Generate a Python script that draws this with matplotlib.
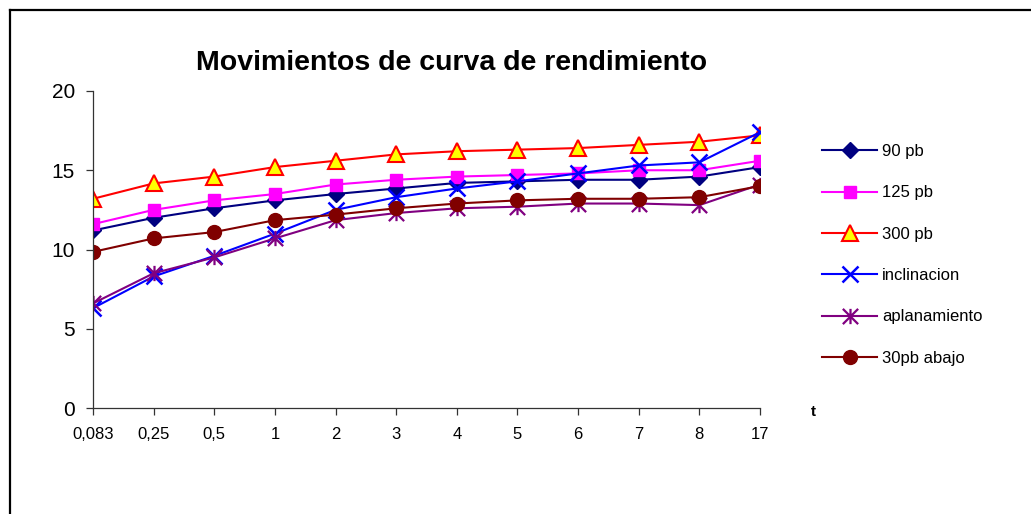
import matplotlib
matplotlib.use("Agg")
import matplotlib.pyplot as plt
from matplotlib.path import Path
from matplotlib.lines import Line2D

plt.rcParams['font.family'] = ['Liberation Sans', 'DejaVu Sans']

categories = ['0,083', '0,25', '0,5', '1', '2', '3', '4', '5', '6', '7', '8', '17']
s90 = [11.2, 12.0, 12.6, 13.1, 13.5, 13.85, 14.2, 14.3, 14.4, 14.4, 14.6, 15.2]
s125 = [11.6, 12.5, 13.1, 13.5, 14.1, 14.4, 14.6, 14.7, 14.8, 15.0, 15.0, 15.6]
s300 = [13.2, 14.17, 14.6, 15.2, 15.6, 16.0, 16.2, 16.3, 16.4, 16.6, 16.8, 17.2]
inclinacion = [6.3, 8.3, 9.6, 11.0, 12.5, 13.3, 13.85, 14.3, 14.8, 15.3, 15.5, 17.4]
aplanamiento = [6.6, 8.5, 9.5, 10.7, 11.85, 12.3, 12.6, 12.7, 12.9, 12.9, 12.8, 14.1]
abajo30 = [9.85, 10.7, 11.1, 11.85, 12.2, 12.6, 12.9, 13.1, 13.2, 13.2, 13.3, 14.0]
labels = ['90 pb', '125 pb', '300 pb', 'inclinacion', 'aplanamiento', '30pb abajo']
yticks = [0, 5, 10, 15, 20]

W, H = 1031, 514
fig = plt.figure(figsize=(W / 100, H / 100), dpi=100)
ax = fig.add_axes([93 / W, 1 - 408 / H, (760 - 93) / W, (408 - 91) / H])

x = list(range(len(categories)))
asterisk = Path([(0, -1), (0, 1), (-1, -1), (1, 1), (-1, 1), (1, -1)],
                [Path.MOVETO, Path.LINETO, Path.MOVETO, Path.LINETO, Path.MOVETO, Path.LINETO])

lw = 1.5
ax.plot(x, s90, color='#000080', lw=lw, marker='D', ms=8, mfc='#000080', mec='#000080', label=labels[0])
ax.plot(x, s125, color='#FF00FF', lw=lw, marker='s', ms=9, mfc='#FF00FF', mec='#FF00FF', label=labels[1])
ax.plot(x, s300, color='#FF0000', lw=lw, marker='^', ms=11, mfc='#FFFF00', mec='#FF0000', mew=1.5, label=labels[2])
ax.plot(x, inclinacion, color='#0000FF', lw=lw, marker='x', ms=11, mec='#0000FF', mew=1.8, label=labels[3])
ax.plot(x, aplanamiento, color='#800080', lw=lw, marker=asterisk, ms=11, mec='#800080', mfc='none', mew=1.6, label=labels[4])
ax.plot(x, abajo30, color='#800000', lw=lw, marker='o', ms=10, mfc='#800000', mec='#800000', label=labels[5])

ax.set_xlim(0, len(categories) - 1)
ax.set_ylim(0, 20)
ax.set_xticks(x)
ax.set_xticklabels(categories, fontsize=12)
ax.set_yticks(yticks)
ax.set_yticklabels([str(v) for v in yticks], fontsize=15)
for s in ['top', 'right']:
    ax.spines[s].set_visible(False)
for s in ['left', 'bottom']:
    ax.spines[s].set_color('#333333')
    ax.spines[s].set_linewidth(0.9)
ax.tick_params(axis='both', direction='out', length=5, width=0.9, color='#333333')
ax.tick_params(axis='x', pad=9)
ax.tick_params(axis='y', pad=8)

fig.text(451.5 / W, 1 - 63 / H, 'Movimientos de curva de rendimiento', fontsize=20.5,
         fontweight='bold', ha='center', va='center')
fig.text(813 / W, 1 - 412 / H, 't', fontsize=11, fontweight='bold', ha='center', va='center')

leg = ax.legend(loc='upper left', bbox_to_anchor=(822 / W, 1 - 144 / H), bbox_transform=fig.transFigure,
                frameon=False, fontsize=12, handlelength=3.3, handletextpad=0.3,
                labelspacing=1.58, borderpad=0, borderaxespad=0)

# outer frame
fig.add_artist(Line2D([10 / W, 1.0], [1 - 10 / H, 1 - 10 / H], color='black', lw=1.6, transform=fig.transFigure))
fig.add_artist(Line2D([10 / W, 10 / W], [1 - 10 / H, 0.0], color='black', lw=1.6, transform=fig.transFigure))

fig.savefig('out.png', dpi=100)
